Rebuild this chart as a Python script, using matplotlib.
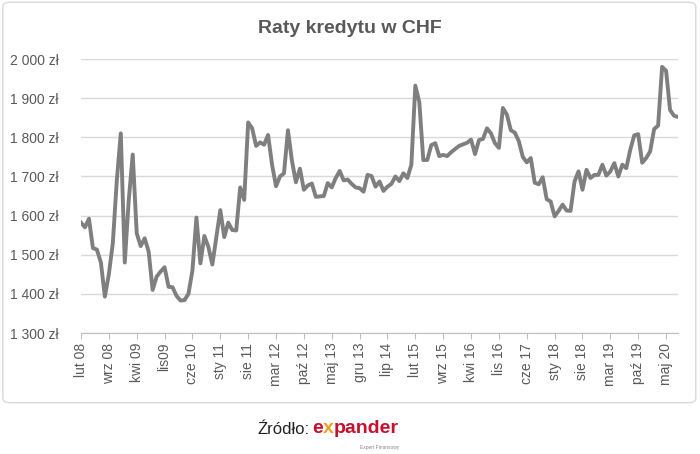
import matplotlib.pyplot as plt
from matplotlib.patches import FancyBboxPatch
from matplotlib.ticker import FuncFormatter

plt.rcParams['font.family'] = ['Liberation Sans', 'DejaVu Sans']

# monthly instalments, lut 08 .. sie 20
raty = [
    1582, 1570, 1592, 1517, 1513, 1480, 1393, 1450, 1530, 1690,
    1810, 1480, 1640, 1756, 1555, 1522, 1542, 1508, 1410, 1444,
    1457, 1468, 1418, 1417, 1395, 1383, 1384, 1400, 1460, 1595,
    1478, 1548, 1520, 1475, 1545, 1614, 1545, 1582, 1563, 1562,
    1672, 1640, 1838, 1823, 1778, 1787, 1781, 1806, 1730, 1675,
    1700, 1708, 1818, 1740, 1685, 1720, 1666, 1677, 1682, 1648,
    1649, 1650, 1683, 1672, 1696, 1714, 1690, 1692, 1681, 1672,
    1670, 1661, 1704, 1701, 1674, 1687, 1663, 1674, 1681, 1700,
    1688, 1708, 1696, 1730, 1932, 1890, 1742, 1742, 1780, 1785,
    1752, 1755, 1752, 1762, 1770, 1778, 1782, 1786, 1794, 1757,
    1793, 1796, 1823, 1810, 1785, 1773, 1875, 1858, 1818, 1812,
    1790, 1750, 1736, 1747, 1684, 1680, 1698, 1642, 1636, 1598,
    1612, 1628, 1613, 1612, 1687, 1713, 1666, 1717, 1696, 1704,
    1704, 1730, 1702, 1713, 1734, 1700, 1730, 1721, 1768, 1805,
    1808, 1735, 1747, 1764, 1821, 1830, 1980, 1970, 1870, 1855,
    1852,
]

# one label every 7 months
tick_labels = ["lut 08", "wrz 08", "kwi 09", "lis09", "cze 10", "sty 11",
               "sie 11", "mar 12", "paź 12", "maj 13", "gru 13", "lip 14",
               "lut 15", "wrz 15", "kwi 16", "lis 16", "cze 17", "sty 18",
               "sie 18", "mar 19", "paź 19", "maj 20"]
y_ticks = [1300, 1400, 1500, 1600, 1700, 1800, 1900, 2000]

fig = plt.figure(figsize=(7, 4.54), dpi=100)

# chart frame (behind the axes)
frame = FancyBboxPatch((0.004, 0.113), 0.99, 0.882, boxstyle="round,pad=0,rounding_size=0.01",
                       transform=fig.transFigure, facecolor="white", edgecolor="#d9d9d9",
                       lw=1, zorder=-5)
fig.add_artist(frame)

ax = fig.add_axes([0.1157, 0.2665, 0.8529, 0.6035])
ax.set_facecolor("none")
ax.plot(range(len(raty)), raty, color="#7f7f7f", lw=2.8, solid_joinstyle="round")

ax.set_xlim(0, len(raty) - 1)
ax.set_ylim(1300, 2000)
ax.set_yticks(y_ticks)
ax.yaxis.set_major_formatter(FuncFormatter(lambda v, p: f"{v:,.0f}".replace(",", " ") + " zł"))
ax.set_xticks(range(0, 7 * len(tick_labels), 7))
ax.set_xticklabels(tick_labels, rotation=90, va="top", ha="center")

ax.grid(axis="y", color="#d9d9d9", lw=1)
ax.set_axisbelow(True)
for s in ["top", "right", "left"]:
    ax.spines[s].set_visible(False)
ax.spines["bottom"].set_color("#bfbfbf")
ax.tick_params(axis="y", length=0, pad=16, labelsize=10, labelcolor="#595959")
ax.tick_params(axis="x", length=4, color="#bfbfbf", pad=3, labelsize=10, labelcolor="#595959")

fig.text(0.5, 0.938, "Raty kredytu w CHF", ha="center", va="center", fontsize=14,
         fontweight="bold", color="#595959")

# source line with logo text
src = fig.text(0.368, 0.038, "Źródło:", fontsize=12, color="#222222", va="bottom")
e = ax.annotate("e", xy=(1, 0), xycoords=src, xytext=(2, 0), textcoords="offset points",
                fontsize=14, fontweight="bold", color="#c8102e", va="bottom", annotation_clip=False)
x = ax.annotate("x", xy=(1, 0), xycoords=e, fontsize=14, fontweight="bold",
                color="#e8a020", va="bottom", annotation_clip=False)
ax.annotate("pander", xy=(1, 0), xycoords=x, fontsize=14, fontweight="bold",
            color="#c8102e", va="bottom", annotation_clip=False)
fig.text(0.515, 0.012, "Expert Finansowy", fontsize=3.5, color="#888888", va="baseline")

fig.savefig("out.png", dpi=100, facecolor="white")
